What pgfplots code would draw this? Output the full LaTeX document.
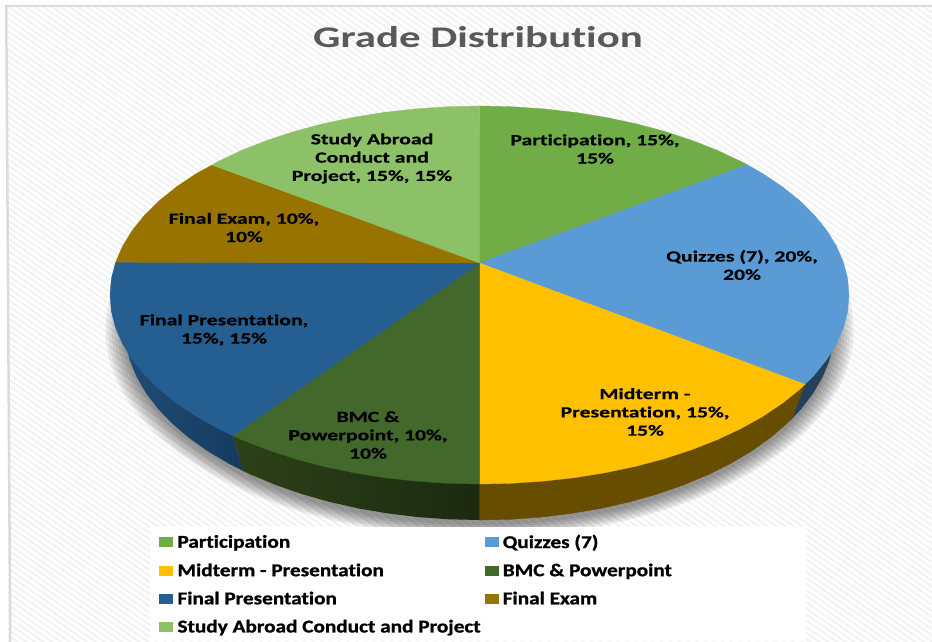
\documentclass[border=0pt]{standalone}
\usepackage{pgfplots}
\pgfplotsset{compat=1.18}
\usepackage{fontspec}
\setmainfont{Carlito}[Ligatures=NoCommon]
\newfontfamily\legendfont{Carlito}[Ligatures=NoCommon,BoldFeatures={FakeBold=1}]
\newfontfamily\labelfont{Carlito}[Ligatures=NoCommon,BoldFeatures={FakeBold=0.4}]
\usetikzlibrary{patterns.meta}
\definecolor{cP}{HTML}{70AD47}
\definecolor{cQ}{HTML}{5B9BD5}
\definecolor{cM}{HTML}{FFC000}
\definecolor{cB}{HTML}{43682B}
\definecolor{cF}{HTML}{255E91}
\definecolor{cE}{HTML}{997300}
\definecolor{cS}{HTML}{8CC168}
\definecolor{sQ}{HTML}{24415C}
\definecolor{sM}{HTML}{664D00}
\definecolor{sBl}{HTML}{2D4118}
\definecolor{sBr}{HTML}{1B2A10}
\definecolor{sFl}{HTML}{1F4D75}
\definecolor{sFr}{HTML}{163A5E}
\newcommand\LT[1]{\hspace*{3pt}\scalebox{1.18}[1]{\textcolor{black}{#1}}}
\tikzset{lbl/.style={transform shape,xscale=1.4,align=center,inner sep=0pt,text=black,
  font=\labelfont\fontsize{15.5}{18.3}\selectfont\bfseries}}
\begin{document}
\begin{tikzpicture}
\begin{axis}[
  scale only axis, width=932pt, height=642pt,
  xmin=0, xmax=932, ymin=0, ymax=642, y dir=reverse,
  axis lines=none, clip=true,
  legend columns=2,
  legend image code/.code={\fill[#1] (0pt,-4.5pt) rectangle (13pt,4.5pt);},
  legend cell align=left,
  legend style={at={(axis cs:150,527)},anchor=north west,draw=none,fill=white,
    inner xsep=9pt,inner ysep=5.5pt,row sep=10pt,
    font=\legendfont\fontsize{18}{18}\selectfont\bfseries,
    /tikz/every even column/.append style={column sep=0pt}},
]
% background
\fill[white] (axis cs:0,0) rectangle (axis cs:932,642);
\fill[pattern={Lines[angle=-35,distance=5pt,line width=2pt]},pattern color=black!5]
  (axis cs:8,6) rectangle (axis cs:932,642);
\fill[black!14] (axis cs:5,5) -- (axis cs:932,5) -- (axis cs:932,7) -- (axis cs:7.5,7) -- (axis cs:11.5,642) -- (axis cs:9,642) -- cycle;
% soft shadow
\fill[black,opacity=.07] (axis cs:479.5,330) ellipse [x radius=374pt,y radius=207pt];
\fill[black,opacity=.07] (axis cs:479.5,330) ellipse [x radius=371pt,y radius=205pt];
\fill[black,opacity=.07] (axis cs:479.5,330) ellipse [x radius=368pt,y radius=203pt];
\fill[black,opacity=.07] (axis cs:479.5,330) ellipse [x radius=365pt,y radius=201pt];
\fill[black,opacity=.07] (axis cs:479.5,330) ellipse [x radius=362pt,y radius=199pt];
\fill[black,opacity=.07] (axis cs:479.5,330) ellipse [x radius=359pt,y radius=197pt];
\fill[black,opacity=.07] (axis cs:479.5,330) ellipse [x radius=356pt,y radius=195pt];
% sides
\addplot[forget plot,draw=sQ,fill=sQ] coordinates {(834.5,327)(833.2,343.8)(829.1,360.5)(822.4,376.9)(813.1,393)(801.2,408.6)(792,418.5)(805,384.3)} -- cycle;
\addplot[forget plot,draw=sM,fill=sM] coordinates {(792,418.5)(786.9,423.5)(770.3,437.7)(751.4,451.1)(730.5,463.5)(707.7,474.8)(683.1,485.1)(657,494.1)(629.5,501.9)(600.9,508.4)(571.4,513.4)(541.1,517.1)(510.5,519.3)(479.5,520)(479.5,484)(805,384.3)} -- cycle;
\addplot[forget plot,draw=none,left color=sBl,right color=sBr] coordinates {(479.5,520)(448.5,519.3)(417.9,517.1)(387.6,513.4)(358.1,508.4)(329.5,501.9)(302,494.1)(275.9,485.1)(251.3,474.8)(243,470.9)(233,435.8)(479.5,484)} -- cycle;
\addplot[forget plot,draw=none,left color=sFl,right color=sFr] coordinates {(243,470.9)(228.5,463.5)(207.6,451.1)(188.7,437.7)(172.1,423.5)(157.8,408.6)(145.9,393)(136.6,376.9)(129.9,360.5)(125.8,343.8)(124.5,327)(233,435.8)} -- cycle;
% top surface
\addplot[draw=cP,fill=cP,line width=.3pt] coordinates {(479.5,263)(479.5,106)(511.7,106.7)(543.6,108.9)(575.1,112.4)(605.9,117.4)(635.7,123.7)(664.3,131.3)(691.4,140.2)(717,150.2)(740.8,161.4)(747.1,164.7)} -- cycle;
\addlegendentry{\makebox[308pt][l]{\LT{Participation}}}
\addplot[draw=cQ,fill=cQ,line width=.3pt] coordinates {(479.5,263)(747.1,164.7)(762.5,173.5)(782.2,186.6)(799.5,200.5)(814.4,215.1)(826.7,230.4)(836.4,246.1)(843.4,262.2)(847.6,278.5)(849,295)(847.6,311.5)(843.4,327.8)(836.4,343.9)(826.7,359.6)(814.4,374.9)(805,384.3)} -- cycle;
\addlegendentry{\makebox[295pt][l]{\LT{Quizzes (7)}}}
\addplot[draw=cM,fill=cM,line width=.3pt] coordinates {(479.5,263)(805,384.3)(799.5,389.5)(782.2,403.4)(762.5,416.5)(740.8,428.6)(717,439.8)(691.4,449.8)(664.3,458.7)(635.7,466.3)(605.9,472.6)(575.1,477.6)(543.6,481.1)(511.7,483.3)(479.5,484)} -- cycle;
\addlegendentry{\makebox[308pt][l]{\LT{Midterm - Presentation}}}
\addplot[draw=cB,fill=cB,line width=.3pt] coordinates {(479.5,263)(479.5,484)(447.3,483.3)(415.4,481.1)(383.9,477.6)(353.1,472.6)(323.3,466.3)(294.7,458.7)(267.6,449.8)(242,439.8)(233,435.8)} -- cycle;
\addlegendentry{\makebox[295pt][l]{\LT{BMC \& Powerpoint}}}
\addplot[draw=cF,fill=cF,line width=.3pt] coordinates {(479.5,263)(233,435.8)(218.2,428.6)(196.5,416.5)(176.8,403.4)(159.5,389.5)(144.6,374.9)(132.3,359.6)(122.6,343.9)(115.6,327.8)(111.4,311.5)(110,295)(111.4,278.5)(115.6,262.2)} -- cycle;
\addlegendentry{\makebox[308pt][l]{\LT{Final Presentation}}}
\addplot[draw=cE,fill=cE,line width=.3pt] coordinates {(479.5,263)(115.6,262.2)(122.6,246.1)(132.3,230.4)(144.6,215.1)(159.5,200.5)(176.8,186.6)(196.5,173.5)(212,165)} -- cycle;
\addlegendentry{\makebox[295pt][l]{\LT{Final Exam}}}
\addplot[draw=cS,fill=cS,line width=.3pt] coordinates {(479.5,263)(212,165)(218.2,161.4)(242,150.2)(267.6,140.2)(294.7,131.3)(323.3,123.7)(353.1,117.4)(383.9,112.4)(415.4,108.9)(447.3,106.7)(479.5,106)} -- cycle;
\addlegendentry{\makebox[308pt][l]{\LT{Study Abroad Conduct and Project}}}
% title and labels
\node[transform shape,xscale=1.43,inner sep=0pt,text=black!65,font=\fontsize{30}{30}\selectfont\bfseries] at (axis cs:478,37) {Grade Distribution};
\node[lbl] at (axis cs:595,149) {Participation, 15\%,\\15\%};
\node[lbl] at (axis cs:742,265) {Quizzes (7), 20\%,\\20\%};
\node[lbl] at (axis cs:645,412) {Midterm -\\Presentation, 15\%,\\15\%};
\node[lbl] at (axis cs:368,435) {BMC \&\\Powerpoint, 10\%,\\10\%};
\node[lbl] at (axis cs:224,330) {Final Presentation,\\15\%, 15\%};
\node[lbl] at (axis cs:244,227.5) {Final Exam, 10\%,\\10\%};
\node[lbl] at (axis cs:372,158.5) {Study Abroad\\Conduct and\\Project, 15\%, 15\%};
\end{axis}
\end{tikzpicture}
\end{document}
